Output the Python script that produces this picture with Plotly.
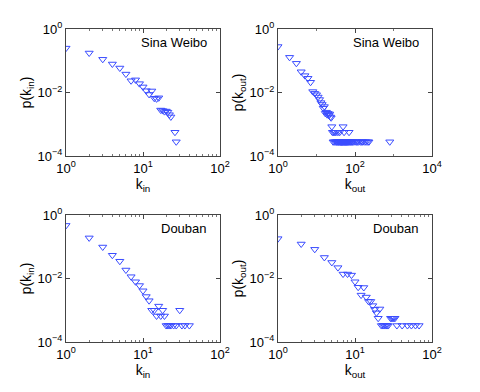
import plotly.graph_objects as go

# ---- data ----
sina_kin = [1, 2, 3, 4, 5, 6, 7, 8, 9, 10, 11, 12, 13, 14, 15, 16, 17, 18, 19, 20, 21, 22, 23, 26, 27]
sina_p_kin = [0.25, 0.175, 0.111, 0.079, 0.059, 0.038, 0.0234, 0.025, 0.019, 0.015, 0.0114, 0.0087,
              0.0112, 0.0066, 0.0063, 0.0068, 0.0028, 0.0027, 0.0025, 0.0026, 0.0024, 0.0020, 0.0017,
              0.00056, 0.00028]

sina_kout = [1, 2, 3, 4, 5, 6, 7, 8, 9, 10, 11, 12, 13, 14, 15, 16, 17, 18, 19, 20, 21, 22, 23, 24,
             25, 26, 28, 30, 32, 36, 40, 49, 52, 70,
             27, 29, 31, 33, 34, 35, 37, 38, 39, 41, 42, 43, 44, 45, 46, 47, 48, 50, 51, 53, 54, 56,
             57, 59, 60, 62, 64, 66, 68, 72, 75, 78, 82, 86, 90, 100, 110, 115, 125, 140, 150, 160,
             180, 195, 215, 230, 800]
sina_p_kout = [0.28, 0.128, 0.083, 0.045, 0.034, 0.028, 0.021, 0.0107, 0.0094, 0.0085, 0.0072, 0.0060,
               0.0048, 0.0042, 0.0032, 0.0036, 0.0022, 0.0024, 0.0020, 0.0022, 0.0019, 0.0021, 0.0017,
               0.0016,
               0.00084, 0.00056, 0.00056, 0.00056, 0.00056, 0.00056, 0.00056, 0.00084, 0.00056, 0.00056,
               0.00028, 0.00028, 0.00028, 0.00028, 0.00028, 0.00028, 0.00028, 0.00028, 0.00028, 0.00028,
               0.00028, 0.00028, 0.00028, 0.00028, 0.00028, 0.00028, 0.00028, 0.00028, 0.00028, 0.00028,
               0.00028, 0.00028, 0.00028, 0.00028, 0.00028, 0.00028, 0.00028, 0.00028, 0.00028, 0.00028,
               0.00028, 0.00028, 0.00028, 0.00028, 0.00028, 0.00028, 0.00028, 0.00028, 0.00028, 0.00028,
               0.00028, 0.00028, 0.00028, 0.00028, 0.00028, 0.00028, 0.00028]

douban_kin = [1, 2, 3, 4, 5, 6, 7, 8, 9, 10, 11, 12, 13, 14, 15, 16, 17, 18, 19, 20, 21, 22, 23, 25,
              27, 30, 32, 35, 40]
douban_p_kin = [0.47, 0.19, 0.098, 0.054, 0.035, 0.0185, 0.0114, 0.0079, 0.006, 0.0041, 0.0027, 0.002,
                0.001, 0.001, 0.00066, 0.00135, 0.00066, 0.001, 0.00066, 0.00033, 0.00033, 0.00033,
                0.00033, 0.00033, 0.00033, 0.001, 0.00033, 0.00033, 0.00033]

douban_kout = [1, 2, 3, 4, 5, 6, 7, 8, 9, 10, 11, 12, 13, 14, 15, 16, 17, 18, 19, 20, 21, 22, 23, 24,
               25, 26, 27, 29, 30, 31, 32, 33, 35, 41, 48, 54, 61, 68]
douban_p_kout = [0.18, 0.122, 0.083, 0.046, 0.032, 0.022, 0.0138, 0.0138, 0.0128, 0.0079, 0.0053, 0.003,
                 0.0052, 0.0026, 0.0019, 0.0019, 0.0014, 0.00107, 0.00083, 0.00056, 0.0011, 0.00033,
                 0.00033, 0.00033, 0.00033, 0.00033, 0.00033, 0.00056, 0.00056, 0.00056, 0.00056,
                 0.00056, 0.00033, 0.00033, 0.00033, 0.00033, 0.00033, 0.00033]

y_tickvals = [1e-4, 1e-2, 1]
y_ticktext = ["10<sup>−4</sup>", "10<sup>−2</sup>", "10<sup>0</sup>"]
x_tickvals_2 = [1, 10, 100]
x_ticktext_2 = ["10<sup>0</sup>", "10<sup>1</sup>", "10<sup>2</sup>"]
x_tickvals_4 = [1, 100, 10000]
x_ticktext_4 = ["10<sup>0</sup>", "10<sup>2</sup>", "10<sup>4</sup>"]
x_minor_2 = [2, 3, 4, 5, 6, 7, 8, 9, 20, 30, 40, 50, 60, 70, 80, 90]
x_minor_4 = [10, 1000]

panels = [
    dict(k=sina_kin, p=sina_p_kin, xr=[0, 2], xtv=x_tickvals_2, xtt=x_ticktext_2, xm=x_minor_2,
         xt="k<sub>in</sub>", yt="p(k<sub>in</sub>)", name="Sina Weibo",
         xd=[66/480, 220/480], yd=[1-156/392, 1-29/392]),
    dict(k=sina_kout, p=sina_p_kout, xr=[0, 4], xtv=x_tickvals_4, xtt=x_ticktext_4, xm=x_minor_4,
         xt="k<sub>out</sub>", yt="p(k<sub>out</sub>)", name="Sina Weibo",
         xd=[278/480, 432/480], yd=[1-156/392, 1-29/392]),
    dict(k=douban_kin, p=douban_p_kin, xr=[0, 2], xtv=x_tickvals_2, xtt=x_ticktext_2, xm=x_minor_2,
         xt="k<sub>in</sub>", yt="p(k<sub>in</sub>)", name="Douban",
         xd=[66/480, 220/480], yd=[1-342/392, 1-215/392]),
    dict(k=douban_kout, p=douban_p_kout, xr=[0, 2], xtv=x_tickvals_2, xtt=x_ticktext_2, xm=x_minor_2,
         xt="k<sub>out</sub>", yt="p(k<sub>out</sub>)", name="Douban",
         xd=[278/480, 432/480], yd=[1-342/392, 1-215/392]),
]

FONT = "Liberation Sans, Arial, Helvetica, sans-serif"
AX = "#444444"
fig = go.Figure()
layout = {}
annotations = []
for i, pn in enumerate(panels):
    n = "" if i == 0 else str(i + 1)
    fig.add_trace(go.Scatter(
        x=pn["k"], y=pn["p"], mode="markers", xaxis="x" + n, yaxis="y" + n,
        marker=dict(symbol="triangle-down-open", size=7, color="#3a4cff", line=dict(width=1)),
        showlegend=False))
    layout["xaxis" + n] = dict(
        type="log", range=pn["xr"], domain=pn["xd"], anchor="y" + n, automargin=False,
        tickvals=pn["xtv"], ticktext=pn["xtt"], ticks="inside", ticklen=4,
        showline=True, linecolor=AX, linewidth=1, mirror="ticks", tickcolor=AX,
        showgrid=False, zeroline=False,
        tickfont=dict(family=FONT, size=13, color="black"),
        title=dict(text=pn["xt"], font=dict(family=FONT, size=14, color="black"), standoff=4),
        minor=dict(tickvals=pn["xm"], ticks="inside", ticklen=2, tickcolor="#777777",
                   showgrid=False),
    )
    layout["yaxis" + n] = dict(
        type="log", range=[-4, 0], domain=pn["yd"], anchor="x" + n, automargin=False,
        tickvals=y_tickvals, ticktext=y_ticktext, ticks="inside", ticklen=4,
        showline=True, linecolor=AX, linewidth=1, mirror="ticks", tickcolor=AX,
        showgrid=False, zeroline=False,
        tickfont=dict(family=FONT, size=13, color="black"),
        title=dict(text=pn["yt"], font=dict(family=FONT, size=14, color="black"), standoff=2),
    )
    annotations.append(dict(
        text=pn["name"], xref="x" + n + " domain", yref="y" + n + " domain",
        x=0.93, y=0.89, xanchor="right", yanchor="middle", showarrow=False,
        font=dict(family=FONT, size=13, color="black")))

fig.update_layout(
    width=480, height=392, margin=dict(l=0, r=0, t=0, b=0, autoexpand=False),
    paper_bgcolor="white", plot_bgcolor="white",
    annotations=annotations, **layout)
fig.write_html("out.html", config={"displayModeBar": False},
               post_script="document.body.style.margin='0';document.body.style.padding='0';")
